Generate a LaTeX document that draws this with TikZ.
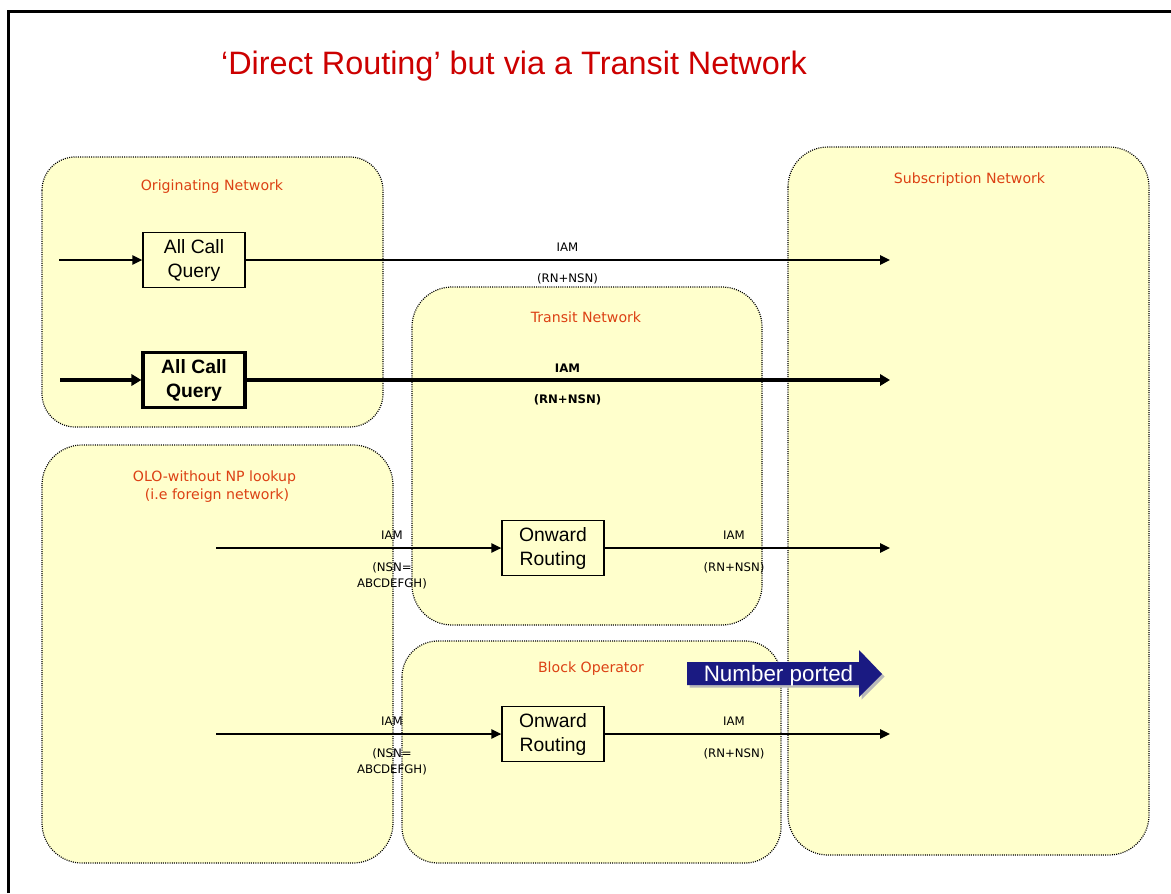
\documentclass[tikz,border=0pt]{standalone}
\usepackage{fontspec}
\setmainfont{Liberation Sans}
\newfontfamily\tahoma{DejaVu Sans}
\usetikzlibrary{arrows.meta}
\definecolor{netfill}{RGB}{255,255,204}
\definecolor{netlabel}{RGB}{220,65,20}
\definecolor{titlered}{RGB}{204,0,0}
\definecolor{navyblue}{RGB}{26,26,130}
\begin{document}
\begin{tikzpicture}[x=0.75pt,y=-0.75pt,
  net/.style={fill=netfill, draw=black, line width=0.9pt, dash pattern=on 0.75pt off 0.9pt},
  netlbl/.style={text=netlabel, font=\tahoma\fontsize{10.6}{14}\selectfont, anchor=base, inner sep=0},
  sig/.style={font=\tahoma\fontsize{8.8}{11.5}\selectfont, anchor=base, inner sep=0},
  sigb/.style={sig, font=\tahoma\bfseries\fontsize{8.8}{11.5}\selectfont},
  proc/.style={draw=black, line width=1pt, fill=netfill, minimum width=76.5pt, minimum height=41.5pt, inner sep=0, align=center, font=\fontsize{14.5}{18}\selectfont},
  procb/.style={proc, line width=2.4pt, font=\bfseries\fontsize{14.5}{18}\selectfont},
  flow/.style={line width=1.2pt, -{Triangle[length=7.5pt,width=7pt]}},
  flowb/.style={line width=3pt, -{Triangle[length=7.5pt,width=8.5pt]}}
]
\useasboundingbox (0,0) rectangle (1171,893);
% frame
\draw[line width=2.25pt, line join=miter] (8.5,893) -- (8.5,11.5) -- (1171,11.5);
% title
\node[anchor=base, inner sep=0, text=titlered, font=\fontsize{24.3}{28}\selectfont] (title) at (514,74) {‘Direct Routing’ but via a Transit Network};
% networks
\draw[net, rounded corners=25pt] (42,157) rectangle (383,427);
\draw[net, rounded corners=30pt] (788,147) rectangle (1149,855);
\draw[net, rounded corners=30pt] (412,287) rectangle (762,625);
\draw[net, rounded corners=30pt] (42,445) rectangle (393,863);
\draw[net, rounded corners=27pt] (402,641) rectangle (781,863);
\node[netlbl] (lorig) at (212,190) {Originating Network};
\node[netlbl] (lsub) at (969.5,183) {Subscription Network};
\node[netlbl] (ltrans) at (586,322) {Transit Network};
\node[netlbl] (lolo1) at (214.5,481) {OLO-without NP lookup};
\node[netlbl] (lolo2) at (217,499) {(i.e foreign network)};
\node[netlbl] (lblock) at (591,672) {Block Operator};
% process boxes
\node[proc] (acq1) at (194,260) {All Call\\Query};
\node[procb] (acq2) at (194,380) {All Call\\Query};
\node[proc] (onw1) at (553,548) {Onward\\Routing};
\node[proc] (onw2) at (553,734) {Onward\\Routing};
% connector ends
\coordinate (in1) at (59,260);
\coordinate (out1) at (890,260);
\coordinate (in2) at (60,380);
\coordinate (out2) at (890,380);
\coordinate (in3) at (216,548);
\coordinate (out3) at (890,548);
\coordinate (in4) at (216,734);
\coordinate (out4) at (890,734);
% connectors
\draw[flow] (in1) -- (acq1.west);
\draw[flow] (acq1.east) -- (out1);
\draw[flowb] (in2) -- (acq2.west);
\draw[flowb] (acq2.east) -- (out2);
\draw[flow] (in3) -- (onw1.west);
\draw[flow] (onw1.east) -- (out3);
\draw[flow] (in4) -- (onw2.west);
\draw[flow] (onw2.east) -- (out4);
% signal labels
\node[sig] (s1a) at (567.5,251) {IAM};
\node[sig] (s1b) at (567.5,282) {(RN+NSN)};
\node[sigb] (s2a) at (567.5,372) {IAM};
\node[sigb] (s2b) at (567.5,403) {(RN+NSN)};
\node[sig] (s3a) at (392,539) {IAM};
\node[sig] (s3b) at (392,571) {(NSN=};
\node[sig] (s3c) at (392,587) {ABCDEFGH)};
\node[sig] (s3d) at (734,539) {IAM};
\node[sig] (s3e) at (734,571) {(RN+NSN)};
\node[sig] (s4a) at (392,725) {IAM};
\node[sig] (s4b) at (392,757) {(NSN=};
\node[sig] (s4c) at (392,773) {ABCDEFGH)};
\node[sig] (s4d) at (734,725) {IAM};
\node[sig] (s4e) at (734,757) {(RN+NSN)};
% number ported arrow
\fill[gray!55, shift={(2.5,2.5)}] (687,662) -- (859,662) -- (859,650) -- (882,674) -- (859,697) -- (859,685) -- (687,685) -- cycle;
\fill[navyblue] (687,662) -- (859,662) -- (859,650) -- (882,674) -- (859,697) -- (859,685) -- (687,685) -- cycle;
\node[anchor=base, inner sep=0, text=white, font=\fontsize{16.8}{20}\selectfont] (nport) at (778.5,681) {Number ported};
\end{tikzpicture}
\end{document}
